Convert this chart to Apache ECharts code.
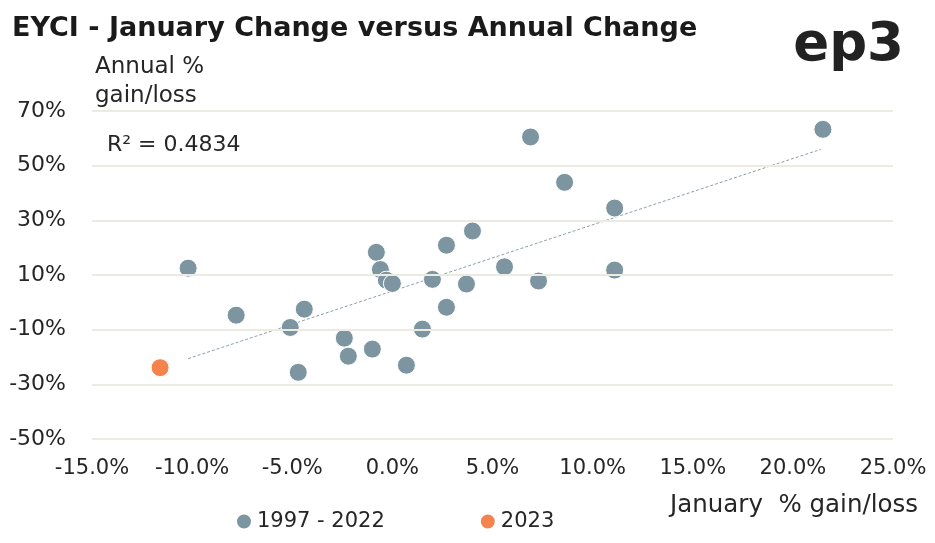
<!DOCTYPE html>
<html>
<head>
<meta charset="utf-8">
<script src="https://cdn.jsdelivr.net/npm/echarts@6/dist/echarts.min.js"></script>
<style>
html,body{margin:0;padding:0;background:#fff;}
#chart{width:935px;height:543px;}
</style>
</head>
<body>
<div id="chart"></div>
<script>
// January % change (x) vs annual % change (y)
const histX = [-10.2, -7.8, -4.4, -5.1, -4.7, -2.4, -2.2, -1.0, -0.8, -0.6, -0.3, 0.0, 0.7, 1.5, 2.0, 2.7, 2.7, 4.0, 3.7, 5.6, 6.9, 8.6, 11.1, 11.1, 7.3, 21.5];
const histY = [12.5, -4.7, -2.5, -9.2, -25.6, -13.1, -19.7, -17.1, 18.3, 12.0, 8.1, 6.9, -23.0, -9.8, 8.4, 20.9, -1.8, 26.1, 6.7, 13.0, 60.5, 43.9, 34.5, 11.8, 7.8, 63.3];
const curX = [-11.6];
const curY = [-23.9];
const trendX = [-10.2, 21.4];
const trendY = [-20.6, 56.0];
const yTicks = [-50, -30, -10, 10, 30, 50, 70];
const xTicks = [-15, -10, -5, 0, 5, 10, 15, 20, 25];
const seriesNames = ['1997 - 2022', '2023'];

const FONT = 'DejaVu Sans';
const TXT = '#262626';
const GRID = '#ecebe1';

const chart = echarts.init(document.getElementById('chart'), null, {renderer: 'canvas'});
chart.setOption({
  animation: false,
  backgroundColor: '#ffffff',
  textStyle: {fontFamily: FONT},
  grid: {left: 92, right: 42, top: 111, bottom: 104, containLabel: false},
  xAxis: {
    type: 'value', min: xTicks[0], max: xTicks[xTicks.length - 1], interval: 5,
    axisLine: {show: false}, axisTick: {show: false}, splitLine: {show: false},
    axisLabel: {color: TXT, fontSize: 21, fontFamily: FONT, margin: 19,
      formatter: v => v.toFixed(1) + '%'}
  },
  yAxis: {
    type: 'value', min: yTicks[0], max: yTicks[yTicks.length - 1], interval: 10,
    axisLine: {show: false}, axisTick: {show: false}, splitLine: {show: false},
    axisLabel: {color: TXT, fontSize: 22, fontFamily: FONT, margin: 26,
      formatter: v => (yTicks.indexOf(v) >= 0 ? v + '%' : '')}
  },
  legend: {
    data: seriesNames.map(n => ({name: n, icon: 'circle'})),
    left: 230, top: 506, itemWidth: 16, itemHeight: 16, itemGap: 94,
    textStyle: {color: TXT, fontSize: 21, fontFamily: FONT}
  },
  graphic: [
    {type: 'text', left: 12, top: 15, style: {text: 'EYCI - January Change versus Annual Change', fill: '#1a1a1a', font: 'bold 27px "' + FONT + '"'}},
    {type: 'text', right: 31, top: 20, style: {text: 'ep3', fill: '#222222', font: 'bold 53px "' + FONT + '"'}},
    {type: 'text', left: 95, top: 53, style: {text: 'Annual %\ngain/loss', fill: TXT, font: '23px "' + FONT + '"', lineHeight: 29}},
    {type: 'text', left: 107, top: 134, style: {text: 'R\u00b2 = 0.4834', fill: TXT, font: '22px "' + FONT + '"'}},
    {type: 'text', right: 17, top: 493, style: {text: 'January  % gain/loss', fill: TXT, font: '24.5px "' + FONT + '"'}}
  ],
  series: [
    {
      name: 'trend', type: 'line', z: 1, symbol: 'none', silent: true,
      data: trendX.map((x, i) => [x, trendY[i]]),
      lineStyle: {color: '#8aa0ac', width: 1, type: [3, 2]},
      markLine: {
        silent: true, symbol: 'none', label: {show: false},
        lineStyle: {color: GRID, width: 2, type: 'solid'},
        data: yTicks.map(v => ({yAxis: v}))
      }
    },
    {
      name: seriesNames[0], type: 'scatter', z: 3, symbolSize: 18,
      data: histX.map((x, i) => [x, histY[i]]),
      itemStyle: {color: '#7d95a1', borderColor: '#ffffff', borderWidth: 1, opacity: 1}
    },
    {
      name: seriesNames[1], type: 'scatter', z: 3, symbolSize: 18,
      data: curX.map((x, i) => [x, curY[i]]),
      itemStyle: {color: '#f5834d', borderColor: '#ffffff', borderWidth: 1, opacity: 1}
    }
  ]
});
</script>
</body>
</html>
